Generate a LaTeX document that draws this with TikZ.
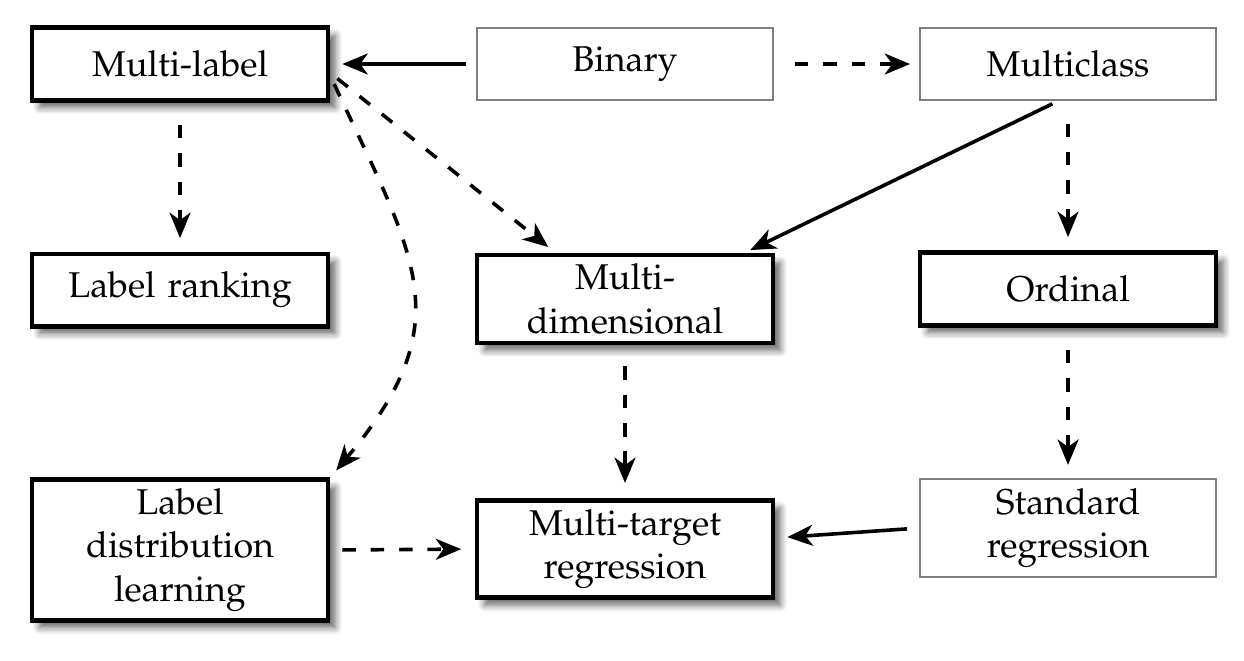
\documentclass[tikz,border=0pt,12pt]{standalone}
\usepackage[T1]{fontenc}
\usepackage{mathpazo}
\usetikzlibrary{arrows.meta,shadows.blur}

\begin{document}
\begin{tikzpicture}[
  box/.style={
    rectangle, draw, line width=1.6pt, fill=white,
    text width=3.2cm, align=center, minimum height=0.85cm, inner ysep=3pt,
    blur shadow={shadow xshift=2.5pt, shadow yshift=-2.5pt, shadow blur steps=6, shadow opacity=60}
  },
  thinbox/.style={
    rectangle, draw=gray, line width=0.7pt, fill=white,
    text width=3.2cm, align=center, minimum height=0.85cm, inner ysep=3pt
  },
  arr/.style={-{Stealth[length=8.5pt,width=7pt,inset=2.5pt]}, line width=1.2pt},
  darr/.style={arr, dash pattern=on 4.5pt off 5pt}
]
\useasboundingbox (0,0) rectangle (14.635,-7.776);

% top row
\node[box]     (ml)  at (2.118,-0.753)  {Multi-label};
\node[thinbox] (bin) at (7.353,-0.753)  {Binary};
\node[thinbox] (mc)  at (12.565,-0.753) {Multiclass};

% middle row
\node[box] (lr)  at (2.118,-3.412)  {Label ranking};
\node[box] (md)  at (7.353,-3.518)  {Multi-\\dimensional};
\node[box] (ord) at (12.565,-3.400) {Ordinal};

% bottom row
\node[box]     (ldl) at (2.118,-6.471)  {Label\\distribution\\learning};
\node[box]     (mtr) at (7.353,-6.459)  {Multi-target\\regression};
\node[thinbox] (sr)  at (12.565,-6.212) {Standard\\regression};

\draw[arr, shorten <=3.5pt, shorten >=4pt] (bin.west) -- (ml.east);
\draw[darr, shorten <=7pt, shorten >=3pt] (bin.east) -- (mc.west);
\draw[darr, shorten <=7.5pt, shorten >=4.5pt] (ml.south) -- (lr.north);
\draw[darr, shorten <=3pt, shorten >=3pt] ([yshift=-3pt]ml.east) -- ([xshift=-0.82cm]md.north);
\draw[darr, shorten <=3pt, shorten >=3pt] ([yshift=-4pt]ml.east) to[out=-65, in=50, looseness=1.3] (ldl.north east);
\draw[arr, shorten <=2pt, shorten >=2pt] ([xshift=-0.12cm]mc.south) -- ([xshift=1.41cm]md.north);
\draw[darr, shorten <=7.5pt, shorten >=4.5pt] (mc.south) -- (ord.north);
\draw[darr, shorten <=7pt, shorten >=5pt] (md.south) -- (mtr.north);
\draw[darr, shorten <=7.5pt, shorten >=4.5pt] (ord.south) -- (sr.north);
\draw[darr, shorten <=4pt, shorten >=4.5pt] (ldl.east) -- (mtr.west);
\draw[arr, shorten <=4pt, shorten >=4pt] (sr.west) -- ([yshift=0.13cm]mtr.east);

\end{tikzpicture}
\end{document}
